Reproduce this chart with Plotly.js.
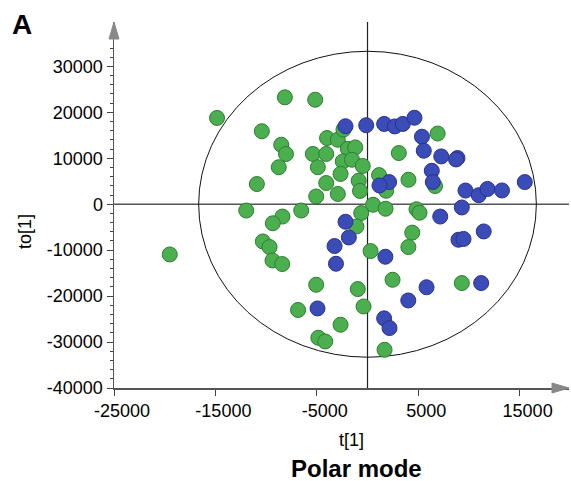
<!DOCTYPE html>
<html>
<head>
<meta charset="utf-8">
<script src="https://cdn.plot.ly/plotly-3.0.1.min.js"></script>
<style>html,body{margin:0;padding:0;background:#fff;}#chart{width:571px;height:481px;}</style>
</head>
<body>
<div id="chart"></div>
<script>
// Green group scores t[1], to[1]
var greenT = [-14840,-8150,-5160,-10420,-8510,-8040,-8750,-10910,-11960,-8390,-9340,-10320,-9660,-9370,-8410,-19500,-6850,-6540,-3990,-2930,-2370,-5390,-4070,-1940,-1210,-2440,-1530,-470,-4900,-2660,-870,-4070,-740,-2930,-5060,550,1780,-620,-1090,1140,1840,3090,4040,4830,5130,6920,6660,4410,4030,300,2470,-5060,-960,-390,-2660,-4850,-4170,1680,9300];
var greenTo = [18790,23270,22750,15890,12950,10930,8060,4400,-1370,-2680,-4140,-8100,-9320,-12240,-13020,-10930,-23010,-1370,14410,14040,16260,10950,10950,12080,12370,9320,9690,8340,8060,6600,5120,4620,2900,2240,1700,-110,-980,-1920,-4830,6340,2940,11150,5330,-1090,-1850,15390,3960,-6180,-9320,-10190,-16440,-17530,-18460,-22250,-26230,-29060,-29870,-31680,-17160];
// Blue group scores t[1], to[1]
var blueT = [-2170,-130,1640,2690,3480,4630,5370,5550,7270,8870,8730,6340,6440,2130,1180,9660,10970,11830,13260,15510,9300,7170,11460,8970,9470,-2170,-1840,-3250,1760,-3110,5820,11210,4020,-4930,1640,2170];
var blueTo = [16980,17200,17480,16940,17480,18830,14700,11650,10410,10060,9750,7290,4830,4830,4090,2980,1980,3330,3000,4830,-700,-2680,-5920,-7730,-7550,-3810,-7230,-9100,-11430,-12950,-18070,-17160,-20940,-22680,-24840,-26950];
// Axis ticks and confidence ellipse (Hotelling T2) semi-axes
var xTicks = [-25000,-15000,-5000,5000,15000];
var yTicks = [-40000,-30000,-20000,-10000,0,10000,20000,30000];
var ellipseT = 16650;
var ellipseTo = 33300;
var xRange = [-25000, 19870];
var yRange = [-40000, 39670];

var font = 'Liberation Sans, Arial, sans-serif';
var traces = [
  {type:'scatter', mode:'markers', x:greenT, y:greenTo, name:'Group 1',
   marker:{size:15, color:'#4CAF4F', line:{color:'#2E7D32', width:1}}, hoverinfo:'x+y'},
  {type:'scatter', mode:'markers', x:blueT, y:blueTo, name:'Group 2',
   marker:{size:15, color:'#3B4BB8', line:{color:'#28338A', width:1}}, hoverinfo:'x+y'}
];

var W = 455, H = 366;
function px(dx){ return dx / W; }
function py(dy){ return dy / H; }
var xArrow = 'M ' + (1 - px(17)) + ',' + py(5) + ' L 1,0 L ' + (1 - px(17)) + ',' + (-py(5)) + ' Z';
var yArrow = 'M ' + (-px(5)) + ',' + (1 - py(17)) + ' L 0,1 L ' + px(5) + ',' + (1 - py(17)) + ' Z';

var layout = {
  width:571, height:481,
  margin:{l:114, r:2, t:22, b:93},
  paper_bgcolor:'#fff', plot_bgcolor:'#fff',
  showlegend:false,
  font:{family:font, size:18, color:'#000'},
  xaxis:{range:xRange, showgrid:false, zeroline:false, showline:true, linecolor:'#555', linewidth:1.5,
    ticks:'outside', ticklen:6, tickcolor:'#444', tickwidth:1, tickvals:xTicks,
    ticktext:xTicks.map(String), ticklabelshift:8, tickfont:{family:font, size:18, color:'#000'}},
  yaxis:{range:yRange, showgrid:false, zeroline:false, showline:true, linecolor:'#555', linewidth:1.5,
    ticks:'outside', ticklen:6, tickcolor:'#444', tickwidth:1, tickvals:yTicks,
    ticktext:yTicks.map(String), tickfont:{family:font, size:18, color:'#000'},
    minor:{tickvals:[-38000,-36000,-34000,-32000,-28000,-26000,-24000,-22000,-18000,-16000,-14000,-12000,-8000,-6000,-4000,-2000,2000,4000,6000,8000,12000,14000,16000,18000,22000,24000,26000,28000,32000,34000,36000], ticks:'outside', ticklen:3, tickcolor:'#444'}},
  shapes:[
    {type:'circle', xref:'x', yref:'y', x0:-ellipseT, x1:ellipseT, y0:-ellipseTo, y1:ellipseTo,
     line:{color:'#111', width:1}, layer:'below'},
    {type:'line', xref:'paper', yref:'y', x0:0, x1:1, y0:0, y1:0, line:{color:'#555', width:1.3}, layer:'below'},
    {type:'line', xref:'x', yref:'paper', x0:0, x1:0, y0:0, y1:1, line:{color:'#222', width:1.2}, layer:'below'},
    {type:'path', xref:'paper', yref:'paper', path:xArrow, fillcolor:'#888888', line:{color:'#888888', width:1}},
    {type:'path', xref:'paper', yref:'paper', path:yArrow, fillcolor:'#888888', line:{color:'#888888', width:1}}
  ],
  annotations:[
    {text:'t[1]', xref:'paper', yref:'paper', x:(351-114)/455, y:(481-93-440)/366, xanchor:'center', yanchor:'middle', showarrow:false, font:{family:font, size:18}},
    {text:'to[1]', xref:'paper', yref:'paper', x:(25-114)/455, y:(481-93-232)/366, xanchor:'center', yanchor:'middle', textangle:-90, showarrow:false, font:{family:font, size:18}},
    {text:'<b>Polar mode</b>', xref:'paper', yref:'paper', x:(356-114)/455, y:(481-93-469)/366, xanchor:'center', yanchor:'middle', showarrow:false, font:{family:font, size:24}},
    {text:'<b>A</b>', xref:'paper', yref:'paper', x:(22-114)/455, y:(481-93-24)/366, xanchor:'center', yanchor:'middle', showarrow:false, font:{family:font, size:28}}
  ]
};
Plotly.newPlot('chart', traces, layout, {staticPlot:true, displayModeBar:false});
</script>
</body>
</html>
